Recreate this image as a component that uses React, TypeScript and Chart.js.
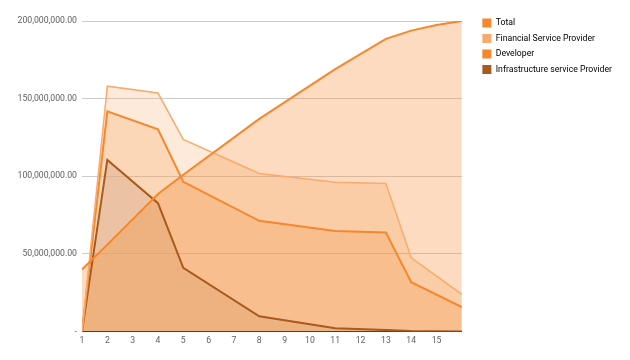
import React, { useEffect, useRef } from "react";
import { Chart, registerables } from "chart.js";

Chart.register(...registerables);

const xValues = [1, 2, 4, 5, 8, 11, 13, 14, 15, 16];
const seriesNames = ["Total", "Financial Service Provider", "Developer", "Infrastructure service Provider"];
const totalValues = [40000000, 56000000, 88600000, 101000000, 137000000, 169000000, 188500000, 193800000, 197400000, 200000000];
const financialValues = [0, 158000000, 153600000, 123800000, 101800000, 96200000, 95400000, 47500000, null, 24000000];
const developerValues = [0, 141800000, 130200000, 96400000, 71300000, 64800000, 63800000, 31800000, null, 15800000];
const infrastructureValues = [0, 110500000, 82700000, 41000000, 9800000, 2200000, 1000000, 300000, null, 0];
const yTicks = [0, 50000000, 100000000, 150000000, 200000000];
const xTickLabels = ["1", "2", "3", "4", "5", "6", "7", "8", "9", "10", "11", "12", "13", "14", "15"];

const colors = ["#f5872d", "#f9aa6c", "#f5872d", "#a85a1f"];
const fills = ["rgba(245,135,45,0.3)", "rgba(249,170,108,0.25)", "rgba(245,135,45,0.22)", "rgba(200,190,190,0.5)"];

const legendShift = {
  id: "legendShift",
  afterLayout(chart: any) {
    const lg = chart.legend;
    if (lg) {
      lg.top -= 9;
      lg.left += 14;
      lg.right += 14;
    }
  },
};

export default function App() {
  const ref = useRef<HTMLCanvasElement>(null);
  useEffect(() => {
    document.body.style.margin = "0";
    const all = [totalValues, financialValues, developerValues, infrastructureValues];
    const datasets = all.map((vals, i) => ({
      label: seriesNames[i],
      data: xValues.map((x, j) => ({ x, y: vals[j] })),
      borderColor: colors[i],
      backgroundColor: fills[i],
      borderWidth: i === 1 ? 1.5 : 2,
      pointRadius: 0,
      fill: "origin",
      spanGaps: true,
      tension: 0,
    }));
    const chart = new Chart(ref.current!, {
      type: "line",
      data: { datasets },
      plugins: [legendShift],
      options: {
        animation: false,
        responsive: false,
        layout: { padding: { top: 21, right: 22, bottom: 10, left: 0 } },
        plugins: {
          filler: { drawTime: "beforeDatasetsDraw" },
          tooltip: { enabled: false },
          legend: {
            position: "right",
            align: "start",
            labels: {
              boxWidth: 9,
              boxHeight: 9,
              padding: 6.5,
              color: "#616161",
              font: { family: "Roboto", size: 8.7 },
              generateLabels: () =>
                seriesNames.map((n, i) => ({
                  text: n,
                  fillStyle: colors[i],
                  strokeStyle: colors[i],
                  lineWidth: 0,
                  hidden: false,
                  datasetIndex: i,
                })),
            },
          },
        },
        scales: {
          x: {
            type: "linear",
            min: 1,
            max: 16,
            grid: { display: false, drawTicks: false },
            border: { color: "#333", width: 1 },
            afterBuildTicks: (axis: any) => {
              axis.ticks = xTickLabels.map((t) => ({ value: Number(t) }));
            },
            ticks: {
              autoSkip: false,
              maxRotation: 0,
              padding: 4,
              color: "#616161",
              font: { family: "Roboto", size: 8.7 },
              callback: (v: any) => (xTickLabels.includes(String(v)) ? String(v) : ""),
            },
          },
          y: {
            min: 0,
            max: 200000000,
            afterBuildTicks: (axis: any) => {
              axis.ticks = yTicks.map((v) => ({ value: v }));
            },
            afterFit: (axis: any) => {
              axis.width = 82;
            },
            grid: { color: "rgba(0,0,0,0.2)", drawTicks: false },
            border: { display: false },
            ticks: {
              padding: 5,
              color: "#616161",
              font: { family: "Roboto", size: 8.7 },
              callback: (v: any) =>
                v === 0
                  ? "-"
                  : Number(v).toLocaleString("en-US", { minimumFractionDigits: 2, maximumFractionDigits: 2 }),
            },
          },
        },
      },
    });
    return () => chart.destroy();
  }, []);
  return (
    <div style={{ width: 630, height: 360, background: "#fff" }}>
      <canvas ref={ref} width={630} height={360} style={{ display: "block" }} />
    </div>
  );
}
